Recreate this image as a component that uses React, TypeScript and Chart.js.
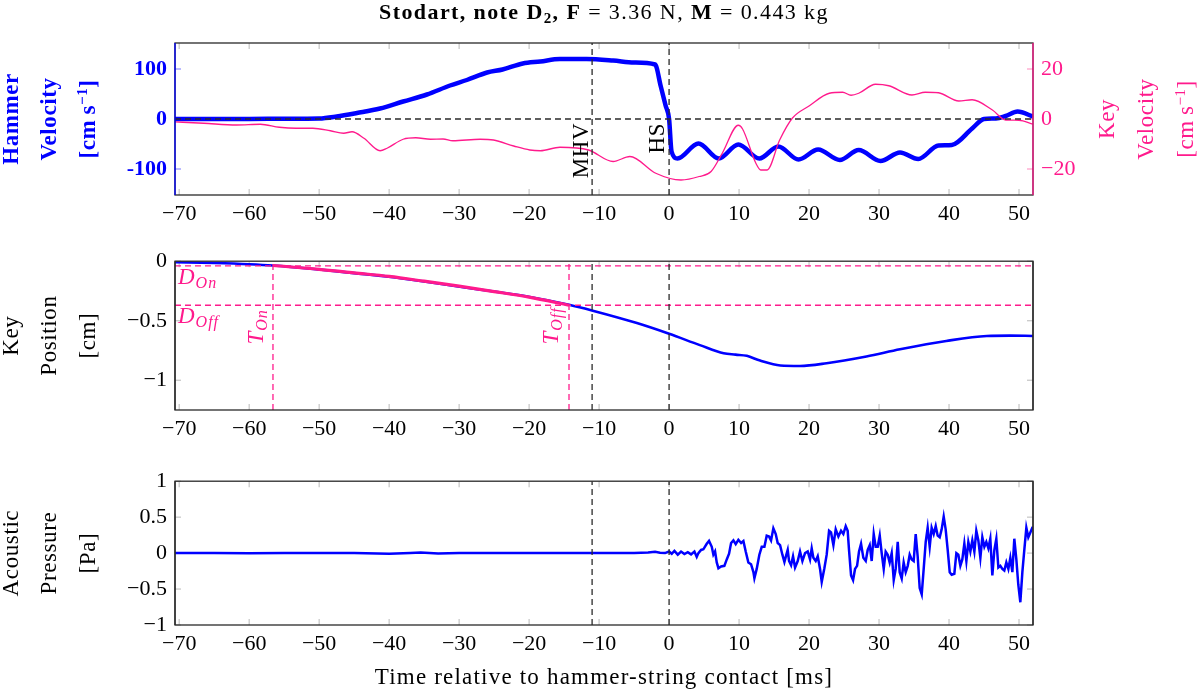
import React, { useEffect, useRef } from 'react';
import { Chart, registerables } from 'chart.js';
Chart.register(...registerables);

// ---------------- data ----------------
const X_MIN = -70.6;
const X_MAX = 52;
const X_TICKS = [-70, -60, -50, -40, -30, -20, -10, 0, 10, 20, 30, 40, 50];

const HAMMER_RANGE = [-152, 152];
const HAMMER_TICKS = [-100, 0, 100];
const KEYVEL_RANGE = [-30.4, 30.4];
const KEYVEL_TICKS = [-20, 0, 20];
const KEYPOS_RANGE = [-1.25, 0];
const KEYPOS_TICKS = [-1, -0.5, 0];
const PRESS_RANGE = [-1, 1];
const PRESS_TICKS = [-1, -0.5, 0, 0.5, 1];

const MHV_T = -11;
const HS_T = 0;
const T_ON = -56.6;
const T_OFF = -14.3;
const D_ON = -0.04;
const D_OFF = -0.37;

const hammerT = [-70.6, -65, -60, -55, -50, -47.5, -44.6, -41.3, -38, -34.6, -31.3, -28.9, -26, -23.8, -20.9, -18.4, -15.6, -11.8, -8, -5, -2, -1.2, -0.5, 0, 0.35, 1.2, 4.2, 7.1, 9.9, 12.9, 15.6, 18.5, 21.3, 24.4, 27.1, 30.2, 33, 35.6, 38.5, 40.4, 43.3, 45, 46.7, 48.1, 49.8, 52];
const hammerV = [0, 0, 0, 0.5, 1, 5, 12, 21, 35, 49, 67, 78, 93, 99, 111, 115, 120, 120, 117, 113, 109, 66, 27, 0, -65, -79, -49, -79, -51, -79, -55, -81, -61, -82, -62, -84, -67, -80, -53, -52, -19, 0, 1, 6, 15, 5];

const keyVelT = [-71, -66.5, -61.8, -58.4, -55.7, -53.3, -50.9, -48.4, -46.5, -45.3, -43.6, -41.3, -40.3, -38, -36.2, -34.1, -32.3, -30.9, -27, -25.1, -22.2, -19.9, -18.4, -15.6, -11.5, -8, -5.6, -1.9, 1.7, 4.3, 6, 7.6, 9.9, 10.5, 12.4, 13.1, 14, 15.8, 17.6, 20, 22.9, 24.8, 26, 27.1, 29.5, 31.4, 34.7, 36.6, 38.5, 41.4, 43.3, 46.2, 48.1, 50, 52];
const keyVelV = [-1.1, -1.7, -2.4, -2.1, -3.3, -3.7, -3.7, -4.7, -5.7, -5.1, -7.7, -12.7, -11.7, -8.1, -7.5, -8.1, -8, -8.7, -8.1, -8.4, -10.8, -12.4, -12.7, -11.3, -12.4, -17, -15, -21.7, -24.4, -23, -21, -13.7, -2.5, -4, -17.7, -20.4, -20.4, -8.4, 0.3, 5.2, 10.3, 10.7, 9.5, 10.3, 13.9, 13.3, 9.6, 10.7, 10.5, 7.2, 7.7, 3.6, -0.4, -0.5, -2.1];

const keyPosT = [-70.6, -65, -60, -56.6, -50, -45, -40.1, -35, -29.9, -25, -19.9, -14.3, -10.9, -4.6, 0, 4.4, 7.8, 9.5, 11.1, 13, 15.9, 18.7, 22.5, 28.2, 33, 39.6, 45.4, 48.7, 52];
const keyPosV = [-0.008, -0.015, -0.025, -0.036, -0.07, -0.1, -0.13, -0.17, -0.215, -0.255, -0.3, -0.366, -0.416, -0.52, -0.61, -0.705, -0.774, -0.785, -0.795, -0.835, -0.876, -0.88, -0.857, -0.8, -0.74, -0.67, -0.628, -0.625, -0.628];

const fitT = [-56.6, -50, -45, -40, -35, -30, -25, -20, -14.3];
const fitV = [-0.036, -0.068, -0.098, -0.128, -0.168, -0.21, -0.255, -0.302, -0.37];

const pressT = [
  -70.6, -65, -60, -55, -50, -45, -40, -37, -35.5, -33, -30, -25, -20, -15, -10, -5, -3, -2, -1.3,
  -0.57, 0, 0.38, 0.76, 1.24, 1.71, 2.19, 2.67, 3.14, 3.62, 3.95, 4.19, 4.57, 4.9, 5.38, 5.71, 6.1, 6.33, 6.57, 6.81, 7.05, 7.43, 7.9, 8.24, 8.57, 8.86, 9.19, 9.52, 9.9, 10.29, 10.62, 10.95, 11.33, 11.71, 12.05, 12.19, 12.52, 12.9, 13.24, 13.62, 13.95, 14.29, 14.57, 14.9, 15.24, 15.52, 15.86, 16.19, 16.48, 16.76, 16.95, 17.14, 17.43, 17.71, 18, 18.38, 18.71, 19.05, 19.43, 19.81, 20.14, 20.38, 20.62, 20.95, 21.24, 21.57, 21.81, 22.19, 22.52, 22.86, 23.14, 23.48, 23.81, 24.19, 24.57, 24.9, 25.24,
  25.52, 25.71, 26, 26.29, 26.57, 26.86, 27.14, 27.43, 27.76, 28.1, 28.38, 28.67, 28.95, 29.24, 29.52, 29.81, 30.1, 30.38, 30.67, 30.95, 31.24, 31.52, 31.81, 32.1, 32.38, 32.67, 32.95, 33.24, 33.52, 33.81, 34.1, 34.38, 34.67, 34.95, 35.24, 35.52, 35.81, 36.1, 36.38, 36.67, 36.95, 37.24, 37.52, 37.81, 38.1, 38.38, 38.67, 38.95, 39.24, 39.52, 39.81, 40.1, 40.38, 40.76, 41.05, 41.33, 41.62, 41.9, 42.19, 42.48, 42.76, 43.05, 43.33, 43.62, 43.9, 44.19, 44.48, 44.76, 45.05, 45.33, 45.62, 45.9, 46.19, 46.48, 46.76, 47.05, 47.33, 47.62, 47.9, 48.19, 48.48, 48.76, 49.05, 49.33, 49.62, 49.9, 50.19, 50.48, 50.76, 51.05, 51.33, 51.62, 51.9, 52.29,
];
const pressV = [
  0, 0, -0.003, 0, 0, 0.003, -0.008, 0.003, 0.01, -0.005, 0.003, 0, 0, 0.003, 0, 0.003, 0.008, 0.02, 0.005,
  0, 0.022, -0.009, 0.031, -0.022, 0.022, -0.013, 0.013, -0.018, 0.022, -0.053, 0, 0.044, 0.053, 0.13, 0.17, 0.088, -0.022, 0.022, -0.13, -0.21, -0.185, -0.177, -0.088, -0.009, 0.14, 0.177, 0.124, 0.185, 0.14, 0.168, 0.022, -0.13, -0.155, -0.265, -0.35, -0.22, -0.022, 0.088, 0.088, 0.243, 0.23, 0.177, 0.344, 0.265, 0.14, 0.11, -0.022, -0.124, -0.022, 0.044, -0.11, -0.168, -0.044, -0.2, -0.11, 0.022, -0.11, 0, 0.022, -0.088, 0.066, -0.066, -0.11, -0.044, -0.22, -0.4, -0.21, -0.022, 0.31, 0.287, 0.11, 0.33, 0.23, 0.31, 0.265, 0.375,
  0.31, 0.044, -0.31, -0.375, -0.22, -0.177, 0.022, 0.13, -0.066, -0.11, 0.044, 0.11, -0.11, 0.265, 0.088, 0.088, 0.243, 0, -0.22, 0.022, -0.022, -0.13, 0, -0.375, -0.22, 0.155, -0.265, -0.353, -0.13, -0.265, -0.177, -0.022, -0.088, -0.11, 0.265, -0.044, -0.486, -0.574, -0.22, 0.155, 0.353, 0.088, 0.353, 0.265, 0.375, 0.243, 0.22, 0.33, 0.508, 0.33, 0.044, -0.265, -0.3, -0.287, 0, -0.022, -0.177, -0.088, 0.132, -0.11, 0.155, 0.022, 0.177, 0.022, 0.31, 0.177, -0.066, 0.22, 0.088, 0.155, 0.066, 0.2, -0.31, 0.044, 0.2, -0.2, -0.177, -0.22, -0.243, -0.13, -0.22, -0.066, -0.265, 0.2, -0.088, -0.44, -0.684, -0.265, 0.044, 0.353, 0.22, 0.287, 0.353, 0.353,
];

// ---------------- style ----------------
const BLUE = '#0000ff';
const PINK = '#ff1a8c';
const DARK = '#2a2a2a';
const SERIF = '"Liberation Serif", "Times New Roman", serif';
const f = (size: number, style = '') => `${style} ${size}px ${SERIF}`.trim();
const TICK_FONT = 22;
const LBL = 23;
const TL = 6;

const fmtMath = (v: number) => (v < 0 ? '\u2212' + String(Math.abs(v)) : String(v));

type Run = { t: string; font: string; dy?: number };

function drawRuns(ctx: CanvasRenderingContext2D, runs: Run[], x: number, y: number, align: 'left' | 'center' | 'right', color: string, rot = 0, spacing = 0) {
  ctx.save();
  ctx.translate(x, y);
  if (rot) ctx.rotate(rot);
  ctx.fillStyle = color;
  ctx.textBaseline = 'alphabetic';
  ctx.textAlign = 'left';
  (ctx as any).letterSpacing = `${spacing}px`;
  let w = 0;
  for (const r of runs) {
    ctx.font = r.font;
    w += ctx.measureText(r.t).width;
  }
  let cx = align === 'center' ? -w / 2 : align === 'right' ? -w : 0;
  for (const r of runs) {
    ctx.font = r.font;
    ctx.fillText(r.t, cx, r.dy || 0);
    cx += ctx.measureText(r.t).width;
  }
  ctx.restore();
}

const pts = (xs: number[], ys: number[]) => xs.map((x, i) => ({ x, y: ys[i] }));

const dashed = (data: any[], color: string, yAxisID = 'y') => ({
  data,
  borderColor: color,
  borderWidth: 1.3,
  borderDash: [6, 4],
  pointRadius: 0,
  tension: 0,
  fill: false,
  yAxisID,
  order: 0,
});

const vline = (x: number, range: number[]) => [{ x, y: range[0] }, { x, y: range[1] }];
const hline = (y: number) => [{ x: X_MIN, y }, { x: X_MAX, y }];

function xScale(h: number) {
  return {
    type: 'linear',
    min: X_MIN,
    max: X_MAX,
    position: 'bottom',
    grid: { display: false, drawTicks: false },
    border: { display: false },
    afterBuildTicks: (s: any) => {
      s.ticks = X_TICKS.map((v) => ({ value: v }));
    },
    afterFit: (s: any) => {
      s.height = h;
    },
    ticks: {
      font: { family: SERIF, size: TICK_FONT },
      color: '#000',
      padding: 6,
      maxRotation: 0,
      autoSkip: false,
      callback: (v: any) => fmtMath(Number(v)),
    },
  };
}

function yScale(range: number[], ticks: number[], position: 'left' | 'right', width: number, color: string, bold: boolean, fmt: (v: number) => string) {
  return {
    type: 'linear',
    min: range[0],
    max: range[1],
    position,
    grid: { display: false, drawTicks: false },
    border: { display: false },
    afterBuildTicks: (s: any) => {
      s.ticks = ticks.map((v) => ({ value: v }));
    },
    afterFit: (s: any) => {
      s.width = width;
    },
    ticks: {
      font: { family: SERIF, size: TICK_FONT, weight: bold ? 'bold' : 'normal' },
      color,
      padding: 8,
      autoSkip: false,
      callback: (v: any) => fmt(Number(v)),
    },
  };
}

function frameTicks(o: { yTicks: number[]; y2Ticks?: number[]; left: string; right: string; leftTick: string; rightTick: string }) {
  return {
    id: 'frameTicks',
    beforeDatasetsDraw(chart: any) {
      const { ctx, chartArea: a, scales } = chart;
      const ln = (x1: number, y1: number, x2: number, y2: number) => {
        ctx.beginPath();
        ctx.moveTo(x1, y1);
        ctx.lineTo(x2, y2);
        ctx.stroke();
      };
      ctx.save();
      ctx.lineWidth = 1.2;
      ctx.strokeStyle = '#c4c4c4';
      for (const v of X_TICKS) {
        const px = scales.x.getPixelForValue(v);
        ln(px, a.top, px, a.top + TL);
        ln(px, a.bottom, px, a.bottom - TL);
      }
      ctx.strokeStyle = o.leftTick;
      for (const v of o.yTicks) {
        const py = scales.y.getPixelForValue(v);
        ln(a.left, py, a.left + TL, py);
        if (!o.y2Ticks) ln(a.right, py, a.right - TL, py);
      }
      if (o.y2Ticks) {
        ctx.strokeStyle = o.rightTick;
        for (const v of o.y2Ticks) {
          const py = scales.y2.getPixelForValue(v);
          ln(a.right, py, a.right - TL, py);
        }
      }
      ctx.restore();
    },
    afterDraw(chart: any) {
      const { ctx, chartArea: a } = chart;
      ctx.save();
      ctx.lineWidth = 1.3;
      ctx.strokeStyle = DARK;
      ctx.strokeRect(a.left, a.top, a.right - a.left, a.bottom - a.top);
      ctx.strokeStyle = o.left;
      ctx.beginPath();
      ctx.moveTo(a.left, a.top);
      ctx.lineTo(a.left, a.bottom);
      ctx.stroke();
      ctx.strokeStyle = o.right;
      ctx.beginPath();
      ctx.moveTo(a.right, a.top);
      ctx.lineTo(a.right, a.bottom);
      ctx.stroke();
      ctx.restore();
    },
  };
}

const LEFT_BASES = [18, 56, 95];
const RIGHT_BASES = [1114, 1153, 1193];

function leftLabel(ctx: CanvasRenderingContext2D, lines: Run[][], cy: number, color: string, bases: number[]) {
  lines.forEach((runs, i) => drawRuns(ctx, runs, bases[i], cy, 'center', color, -Math.PI / 2, 0.6));
}

const baseOpts = (padTop: number, padRight: number) => ({
  responsive: false,
  maintainAspectRatio: false,
  animation: false,
  layout: { padding: { top: padTop, right: padRight, left: 0, bottom: 0 } },
  plugins: { legend: { display: false }, tooltip: { enabled: false }, title: { display: false } },
  elements: { point: { radius: 0 } },
});

function cfg1(): any {
  const labels = {
    id: 'labels1',
    afterDraw(chart: any) {
      const { ctx, chartArea: a, scales } = chart;
      const cy = (a.top + a.bottom) / 2;
      drawRuns(
        ctx,
        [
          { t: 'Stodart, note ', font: f(22, 'bold') },
          { t: 'D', font: f(22, 'bold') },
          { t: '2', font: f(15, 'bold'), dy: 4 },
          { t: ', ', font: f(22, 'bold') },
          { t: 'F', font: f(22, 'bold') },
          { t: ' = 3.36 N, ', font: f(22) },
          { t: 'M', font: f(22, 'bold') },
          { t: ' = 0.443 kg', font: f(22) },
        ],
        (a.left + a.right) / 2,
        19,
        'center',
        '#000',
        0,
        1.4,
      );
      const B = f(LBL, 'bold');
      leftLabel(
        ctx,
        [
          [{ t: 'Hammer', font: B }],
          [{ t: 'Velocity', font: B }],
          [
            { t: '[cm\u2009s', font: B },
            { t: '\u22121', font: f(15, 'bold'), dy: -8 },
            { t: ']', font: B },
          ],
        ],
        cy,
        BLUE,
        LEFT_BASES,
      );
      const N = f(LBL);
      leftLabel(
        ctx,
        [
          [{ t: 'Key', font: N }],
          [{ t: 'Velocity', font: N }],
          [
            { t: '[cm\u2009s', font: N },
            { t: '\u22121', font: f(15), dy: -8 },
            { t: ']', font: N },
          ],
        ],
        cy,
        PINK,
        RIGHT_BASES,
      );
      const y0 = scales.y.getPixelForValue(0);
      drawRuns(ctx, [{ t: 'MHV', font: f(LBL) }], scales.x.getPixelForValue(MHV_T) - 4, y0 + 4, 'right', '#000', -Math.PI / 2, 0.5);
      drawRuns(ctx, [{ t: 'HS', font: f(LBL) }], scales.x.getPixelForValue(HS_T) - 5, y0 + 4, 'right', '#000', -Math.PI / 2, 0.5);
    },
  };
  return {
    type: 'line',
    data: {
      datasets: [
        dashed(hline(0), DARK),
        dashed(vline(MHV_T, HAMMER_RANGE), DARK),
        dashed(vline(HS_T, HAMMER_RANGE), DARK),
        {
          data: pts(keyVelT, keyVelV),
          borderColor: PINK,
          borderWidth: 1.3,
          pointRadius: 0,
          cubicInterpolationMode: 'monotone',
          yAxisID: 'y2',
          order: 1,
        },
        {
          data: pts(hammerT, hammerV),
          borderColor: BLUE,
          borderWidth: 4.5,
          pointRadius: 0,
          cubicInterpolationMode: 'monotone',
          yAxisID: 'y',
          order: 2,
        },
      ],
    },
    options: {
      ...baseOpts(43, 0),
      scales: {
        x: xScale(45),
        y: yScale(HAMMER_RANGE, HAMMER_TICKS, 'left', 175, BLUE, true, (v) => String(v)),
        y2: yScale(KEYVEL_RANGE, KEYVEL_TICKS, 'right', 167, PINK, false, fmtMath),
      },
    },
    plugins: [
      frameTicks({ yTicks: HAMMER_TICKS, y2Ticks: KEYVEL_TICKS, left: BLUE, right: PINK, leftTick: '#8c8cff', rightTick: '#ff9cc8' }),
      labels,
    ],
  };
}

function cfg2(): any {
  const labels = {
    id: 'labels2',
    afterDraw(chart: any) {
      const { ctx, chartArea: a, scales } = chart;
      const cy = (a.top + a.bottom) / 2;
      const N = f(LBL);
      leftLabel(ctx, [[{ t: 'Key', font: N }], [{ t: 'Position', font: N }], [{ t: '[cm]', font: N }]], cy, '#000', LEFT_BASES);
      const I = f(LBL, 'italic');
      const S = f(16, 'italic');
      drawRuns(ctx, [{ t: 'D', font: I }, { t: 'On', font: S, dy: 4 }], a.left + 3, scales.y.getPixelForValue(D_ON) + 18, 'left', PINK, 0, 1);
      drawRuns(ctx, [{ t: 'D', font: I }, { t: 'Off', font: S, dy: 4 }], a.left + 3, scales.y.getPixelForValue(D_OFF) + 18, 'left', PINK, 0, 1);
      drawRuns(ctx, [{ t: 'T', font: I }, { t: 'On', font: S, dy: 4 }], scales.x.getPixelForValue(T_ON) - 10, scales.y.getPixelForValue(D_OFF) + 4, 'right', PINK, -Math.PI / 2, 1);
      drawRuns(ctx, [{ t: 'T', font: I }, { t: 'Off', font: S, dy: 4 }], scales.x.getPixelForValue(T_OFF) - 11, scales.y.getPixelForValue(D_OFF) + 2, 'right', PINK, -Math.PI / 2, 1);
    },
  };
  return {
    type: 'line',
    data: {
      datasets: [
        dashed(vline(MHV_T, KEYPOS_RANGE), DARK),
        dashed(vline(HS_T, KEYPOS_RANGE), DARK),
        dashed(hline(D_ON), PINK),
        dashed(hline(D_OFF), PINK),
        dashed(vline(T_ON, KEYPOS_RANGE), PINK),
        dashed(vline(T_OFF, KEYPOS_RANGE), PINK),
        {
          data: pts(fitT, fitV),
          borderColor: PINK,
          borderWidth: 3.2,
          pointRadius: 0,
          cubicInterpolationMode: 'monotone',
          order: 1,
        },
        {
          data: pts(keyPosT, keyPosV),
          borderColor: BLUE,
          borderWidth: 2.6,
          pointRadius: 0,
          cubicInterpolationMode: 'monotone',
          order: 2,
        },
      ],
    },
    options: {
      ...baseOpts(19, 167),
      scales: {
        x: xScale(50),
        y: yScale(KEYPOS_RANGE, KEYPOS_TICKS, 'left', 175, '#000', false, fmtMath),
      },
    },
    plugins: [frameTicks({ yTicks: KEYPOS_TICKS, left: DARK, right: DARK, leftTick: '#c4c4c4', rightTick: '#c4c4c4' }), labels],
  };
}

function cfg3(): any {
  const labels = {
    id: 'labels3',
    afterDraw(chart: any) {
      const { ctx, chartArea: a } = chart;
      const cy = (a.top + a.bottom) / 2;
      const N = f(LBL);
      leftLabel(ctx, [[{ t: 'Acoustic', font: N }], [{ t: 'Pressure', font: N }], [{ t: '[Pa]', font: N }]], cy, '#000', LEFT_BASES);
      drawRuns(ctx, [{ t: 'Time relative to hammer-string contact [ms]', font: N }], (a.left + a.right) / 2, 224, 'center', '#000', 0, 1.2);
    },
  };
  return {
    type: 'line',
    data: {
      datasets: [
        dashed(vline(MHV_T, PRESS_RANGE), DARK),
        dashed(vline(HS_T, PRESS_RANGE), DARK),
        {
          data: pts(pressT, pressV),
          borderColor: BLUE,
          borderWidth: 2.5,
          pointRadius: 0,
          tension: 0,
          order: 1,
        },
      ],
    },
    options: {
      ...baseOpts(14, 167),
      scales: {
        x: xScale(67),
        y: yScale(PRESS_RANGE, PRESS_TICKS, 'left', 175, '#000', false, fmtMath),
      },
    },
    plugins: [frameTicks({ yTicks: PRESS_TICKS, left: DARK, right: DARK, leftTick: '#c4c4c4', rightTick: '#c4c4c4' }), labels],
  };
}

export default function App() {
  const r1 = useRef<HTMLCanvasElement>(null);
  const r2 = useRef<HTMLCanvasElement>(null);
  const r3 = useRef<HTMLCanvasElement>(null);
  useEffect(() => {
    document.body.style.margin = '0';
    const charts = [new Chart(r1.current!, cfg1()), new Chart(r2.current!, cfg2()), new Chart(r3.current!, cfg3())];
    return () => charts.forEach((c) => c.destroy());
  }, []);
  const cs = (top: number, h: number): React.CSSProperties => ({ position: 'absolute', left: 0, top, width: 1200, height: h, display: 'block' });
  return (
    <div style={{ position: 'relative', width: 1200, height: 692, background: '#fff', overflow: 'hidden' }}>
      <canvas ref={r1} width={1200} height={240} style={cs(0, 240)} />
      <canvas ref={r2} width={1200} height={220} style={cs(240, 220)} />
      <canvas ref={r3} width={1200} height={232} style={cs(460, 232)} />
    </div>
  );
}
